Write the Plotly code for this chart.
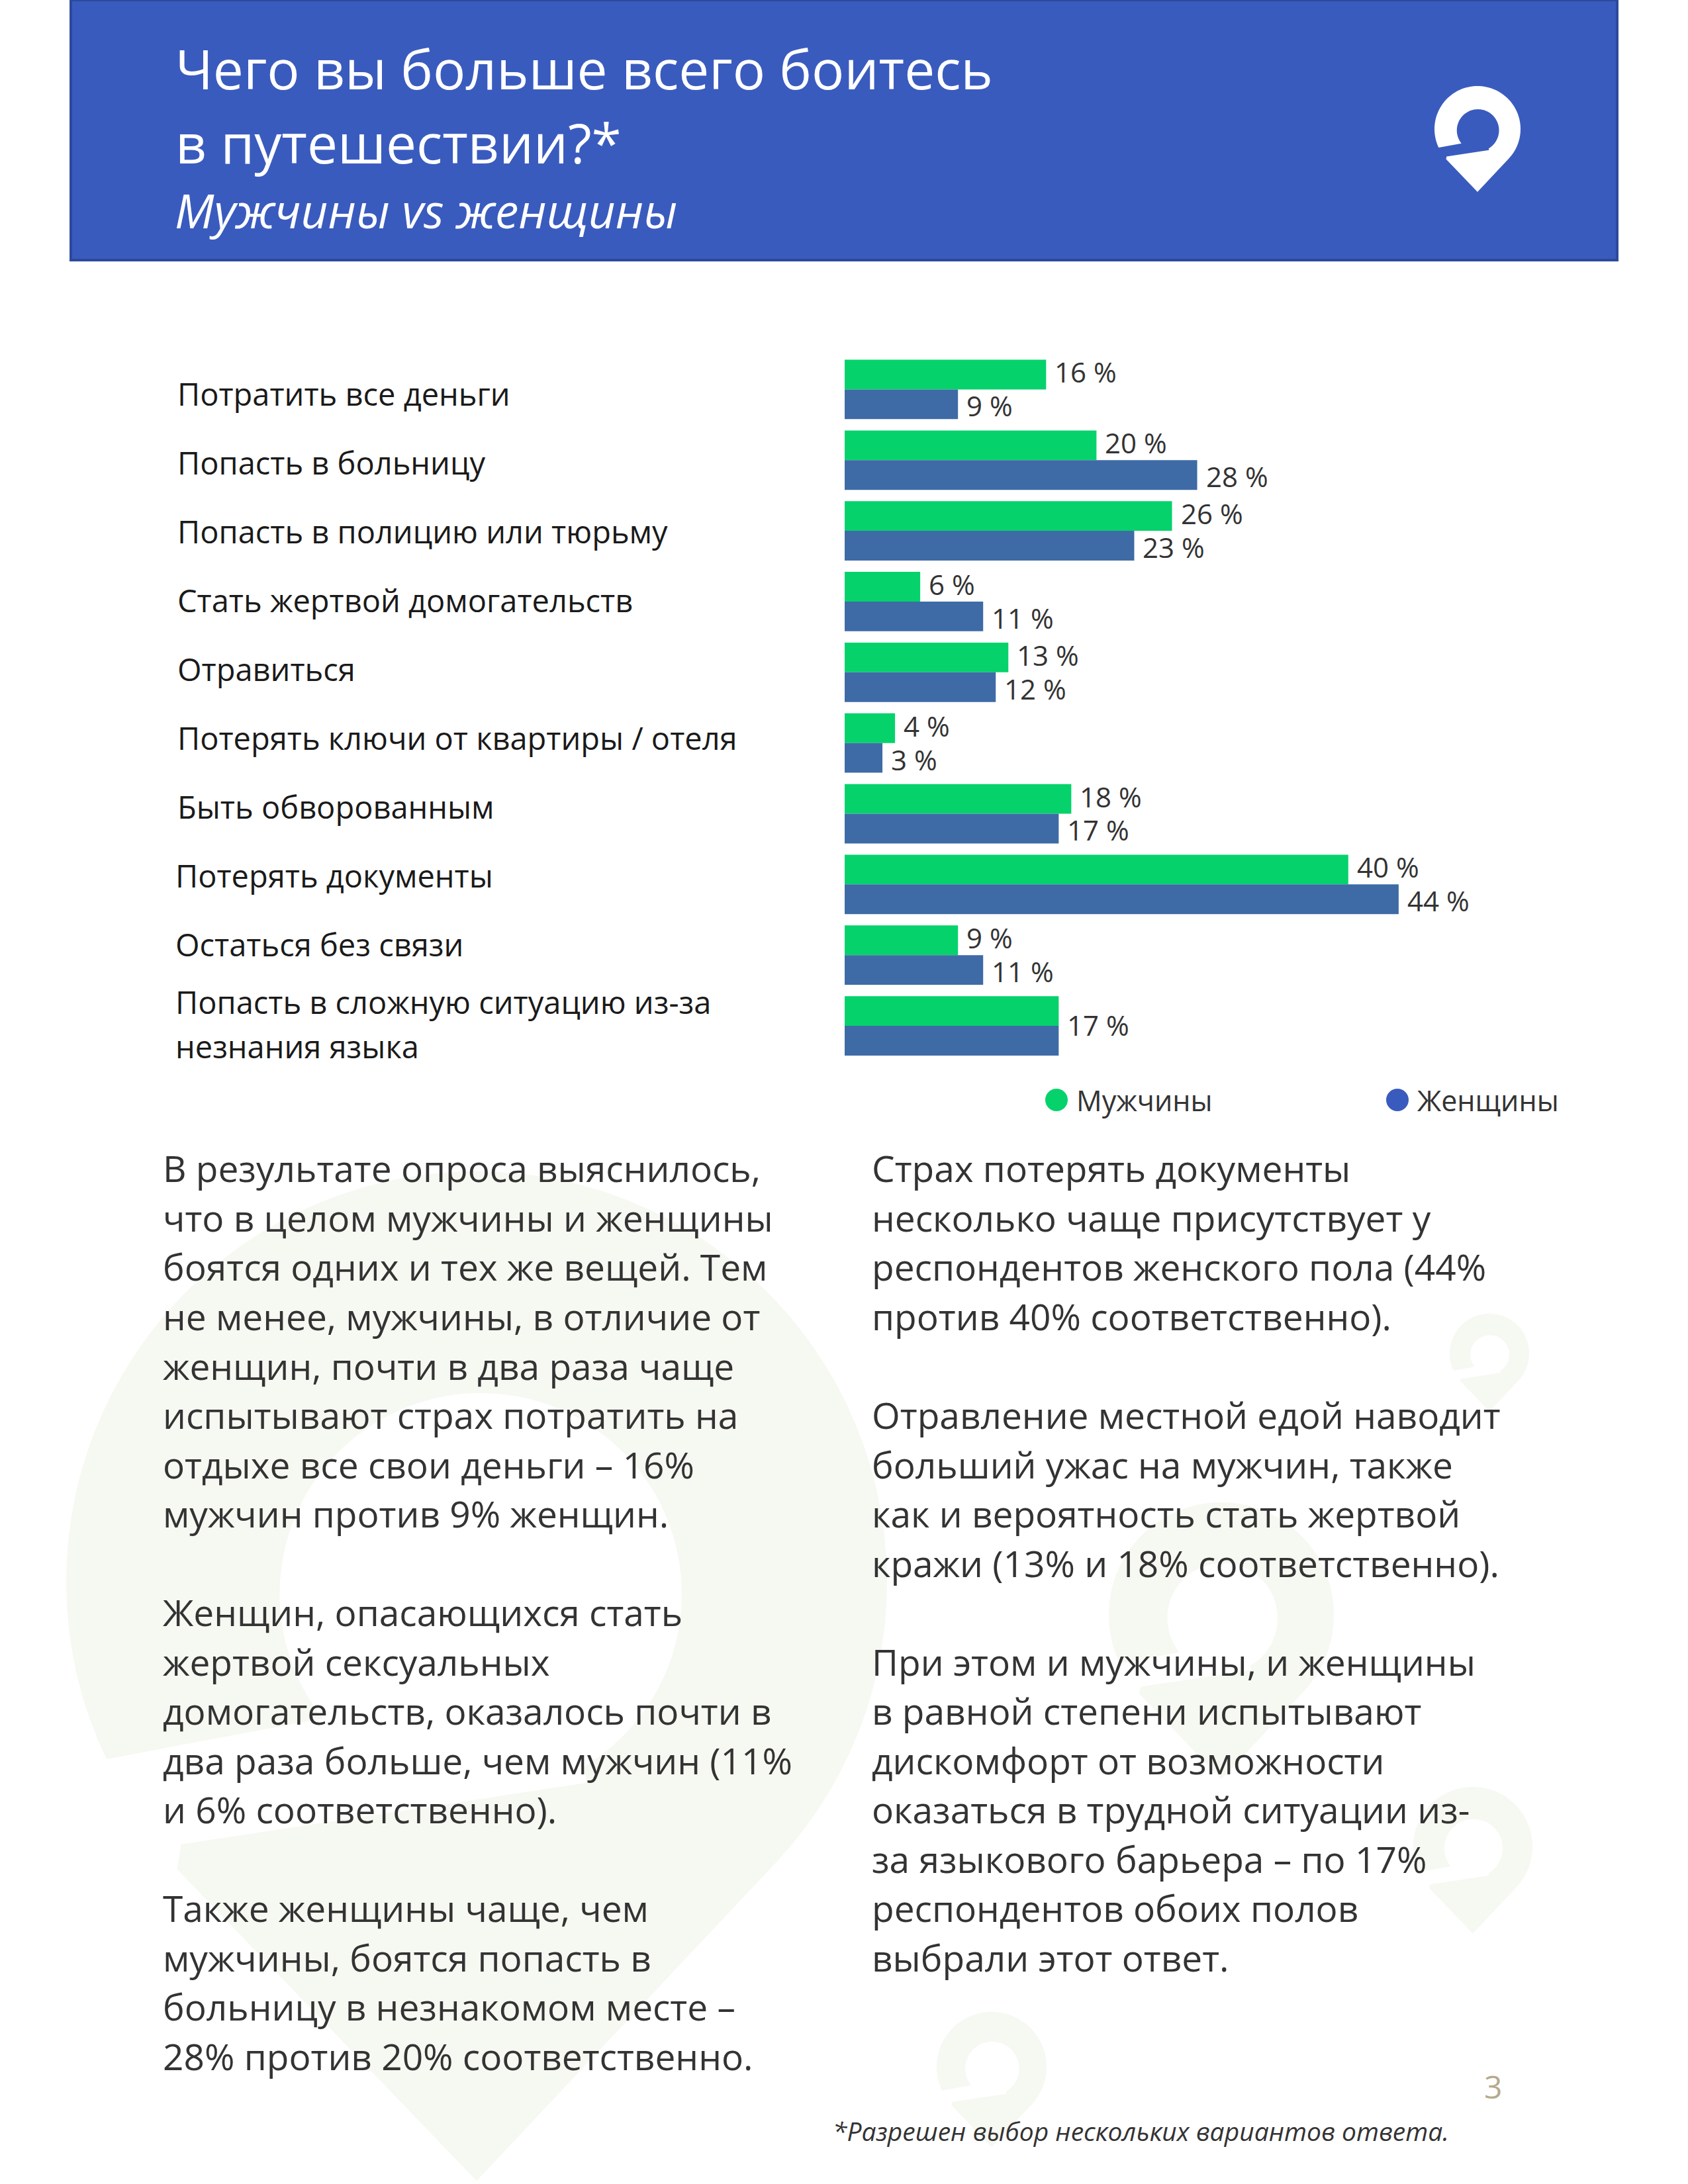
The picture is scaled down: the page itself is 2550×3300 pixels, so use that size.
import math
import plotly.graph_objects as go

W, H = 2550, 3300

# ---------------- data ----------------
categories = [
    "Потратить все деньги",
    "Попасть в больницу",
    "Попасть в полицию или тюрьму",
    "Стать жертвой домогательств",
    "Отравиться",
    "Потерять ключи от квартиры / отеля",
    "Быть обворованным",
    "Потерять документы",
    "Остаться без связи",
    "Попасть в сложную ситуацию из-за<br>незнания языка",
]
men = [16, 20, 26, 6, 13, 4, 18, 40, 9, 17]
women = [9, 28, 23, 11, 12, 3, 17, 44, 11, 17]
series_names = ["Мужчины", "Женщины"]
bar_colors = ["#06D26C", "#3E6BA6"]
legend_colors = ["#06D26C", "#3A5BBE"]

title_lines = ["Чего вы больше всего боитесь", "в путешествии?*"]
subtitle = "Мужчины vs женщины"
footnote = "*Разрешен выбор нескольких вариантов ответа."
page_number = "3"

left_column = [
    "В результате опроса выяснилось,",
    "что в целом мужчины и женщины",
    "боятся одних и тех же вещей. Тем",
    "не менее, мужчины, в отличие от",
    "женщин, почти в два раза чаще",
    "испытывают страх потратить на",
    "отдыхе все свои деньги – 16%",
    "мужчин против 9% женщин.",
    "",
    "Женщин, опасающихся стать",
    "жертвой сексуальных",
    "домогательств, оказалось почти в",
    "два раза больше, чем мужчин (11%",
    "и 6% соответственно).",
    "",
    "Также женщины чаще, чем",
    "мужчины, боятся попасть в",
    "больницу в незнакомом месте –",
    "28% против 20% соответственно.",
]
right_column = [
    "Страх потерять документы",
    "несколько чаще присутствует у",
    "респондентов женского пола (44%",
    "против 40% соответственно).",
    "",
    "Отравление местной едой наводит",
    "больший ужас на мужчин, также",
    "как и вероятность стать жертвой",
    "кражи (13% и 18% соответственно).",
    "",
    "При этом и мужчины, и женщины",
    "в равной степени испытывают",
    "дискомфорт от возможности",
    "оказаться в трудной ситуации из-",
    "за языкового барьера – по 17%",
    "респондентов обоих полов",
    "выбрали этот ответ.",
]

# ---------------- helpers (page pixels -> paper) ----------------
def X(px):
    return px / W


def Y(py):
    return 1 - py / H


FONT = "Open Sans, Noto Sans, DejaVu Sans, sans-serif"
TEXT_COLOR = "#333333"

# chart geometry (pixels on page)
PLOT_X0, PLOT_X1 = 1276, 2227
PLOT_Y0, PLOT_Y1 = 535, 1603.5
X_MAX = 50
BARGAP = 0.16
band_px = (PLOT_Y1 - PLOT_Y0) / len(categories)
bar_px = band_px * (1 - BARGAP) / 2

# category labels sit on a slightly tighter grid than the bars
LABEL_TOP, LABEL_STEP, LINE_GAP = 595, 104.0, 67

fig = go.Figure()
for name, vals, col in zip(series_names, [men, women], bar_colors):
    fig.add_trace(go.Bar(
        name=name, y=categories, x=vals, orientation="h",
        marker=dict(color=col, line=dict(width=0)),
        hoverinfo="x+y", showlegend=False,
    ))

annotations = []
shapes = []

# ---- watermark pins (decorative) ----
def pin_path(cx, cy, R):
    pts = []
    a0, a1 = 154.4, 403.2
    n = 80
    for k in range(n + 1):
        a = math.radians(a0 + (a1 - a0) * k / n)
        pts.append((math.cos(a), math.sin(a)))
    pts.append((0.0, 1.46))
    pts.append((-0.73, 0.70))
    pts.append((-0.72, 0.64))
    pts.append((0.27, 0.49))
    hc = (0.01, 0.03)
    hr = 0.49
    b0, b1 = 59.6, 141.8 - 360
    for k in range(n + 1):
        a = math.radians(b0 + (b1 - b0) * k / n)
        pts.append((hc[0] + hr * math.cos(a), hc[1] + hr * math.sin(a)))
    s = ""
    for i, (u, v) in enumerate(pts):
        s += ("M" if i == 0 else "L") + f"{X(cx + R * u):.5f},{Y(cy + R * v):.5f} "
    return s + "Z"


WM = "#F6F8F2"
for (cx, cy, R) in [(720, 2390, 620), (1845, 2440, 170), (2250, 2045, 60),
                    (2225, 2790, 90), (1498, 3123, 83)]:
    shapes.append(dict(type="path", path=pin_path(cx, cy, R), xref="paper", yref="paper",
                       fillcolor=WM, line=dict(width=0), layer="below"))

# ---- header ----
shapes.append(dict(type="rect", xref="paper", yref="paper", x0=X(107), x1=X(2443),
                   y0=Y(393), y1=Y(0), fillcolor="#3A5BBE",
                   line=dict(color="#2C4A9C", width=4), layer="below"))
shapes.append(dict(type="path", path=pin_path(2232, 195, 65), xref="paper", yref="paper",
                   fillcolor="white", line=dict(width=0), layer="above"))

for line, cy in zip(title_lines, [103, 215]):
    annotations.append(dict(text=line, x=X(263), y=Y(cy), xref="paper", yref="paper",
                            xanchor="left", yanchor="middle", showarrow=False,
                            font=dict(family=FONT, size=82, color="white")))
annotations.append(dict(text=f"<i>{subtitle}</i>", x=X(262), y=Y(317), xref="paper", yref="paper",
                        xanchor="left", yanchor="middle", showarrow=False,
                        font=dict(family=FONT, size=71, color="white")))

# ---- category labels ----
for i, cat in enumerate(categories):
    parts = cat.split("<br>")
    n = len(parts)
    bar_center = PLOT_Y0 + band_px * (i + 0.5)
    if n == 1:
        target = LABEL_TOP + LABEL_STEP * i
    else:
        target = bar_center - 3
    for k, part in enumerate(parts):
        annotations.append(dict(text=part, x=X(266 if i < 7 else 263), y=cat,
                                xref="paper", yref="y",
                                xanchor="left", yanchor="middle", showarrow=False,
                                yshift=(bar_center - target) + ((n - 1) / 2 - k) * LINE_GAP,
                                font=dict(family=FONT, size=47, color="#1a1a1a")))

# ---- value labels ----
for cat, m, w in zip(categories, men, women):
    if m == w:
        items = [(m, 2)]
    else:
        items = [(m, bar_px / 2 + 4), (w, -bar_px / 2 - 2)]
    for v, ys in items:
        annotations.append(dict(text=f"{v} %", x=v, y=cat, xref="x", yref="y",
                                xanchor="left", yanchor="middle", showarrow=False,
                                xshift=11, yshift=ys,
                                font=dict(family=FONT, size=42, color=TEXT_COLOR)))

# ---- legend (manual, large round markers) ----
for name, col, cx in zip(series_names, legend_colors, [1596, 2111]):
    cy, r = 1662, 17
    shapes.append(dict(type="circle", xref="paper", yref="paper",
                       x0=X(cx - r), x1=X(cx + r), y0=Y(cy + r), y1=Y(cy - r),
                       fillcolor=col, line=dict(width=0)))
    annotations.append(dict(text=name, x=X(cx + 28), y=Y(cy), xref="paper", yref="paper",
                            xanchor="left", yanchor="middle", showarrow=False,
                            font=dict(family=FONT, size=43, color=TEXT_COLOR)))

# ---- body text ----
LINE0, STEP = 1765, 74.5
for col_lines, x0 in [(left_column, 244), (right_column, 1315)]:
    for i, line in enumerate(col_lines):
        if not line:
            continue
        annotations.append(dict(text=line, x=X(x0), y=Y(LINE0 + STEP * i), xref="paper",
                                yref="paper", xanchor="left", yanchor="middle",
                                showarrow=False,
                                font=dict(family=FONT, size=55, color=TEXT_COLOR)))

# ---- footer ----
annotations.append(dict(text=f"<i>{footnote}</i>", x=X(1256), y=Y(3219), xref="paper",
                        yref="paper", xanchor="left", yanchor="middle", showarrow=False,
                        font=dict(family=FONT, size=39, color=TEXT_COLOR)))
annotations.append(dict(text=page_number, x=X(2255), y=Y(3152), xref="paper", yref="paper",
                        xanchor="center", yanchor="middle", showarrow=False,
                        font=dict(family=FONT, size=48, color="#B5AA8C")))

fig.update_layout(
    width=W, height=H,
    margin=dict(l=0, r=0, t=0, b=0),
    paper_bgcolor="white", plot_bgcolor="rgba(0,0,0,0)",
    barmode="group", bargap=BARGAP, bargroupgap=0,
    showlegend=False,
    xaxis=dict(domain=[X(PLOT_X0), X(PLOT_X1)], range=[0, X_MAX], visible=False,
               fixedrange=True),
    yaxis=dict(domain=[Y(PLOT_Y1), Y(PLOT_Y0)], range=[len(categories) - 0.5, -0.5],
               autorange=False, visible=False, type="category",
               categoryorder="array", categoryarray=categories, fixedrange=True),
    annotations=annotations,
    shapes=shapes,
    font=dict(family=FONT),
)

fig.write_html("out.html", config={"displayModeBar": False},
               post_script="document.body.style.margin='0';document.body.style.padding='0';")
